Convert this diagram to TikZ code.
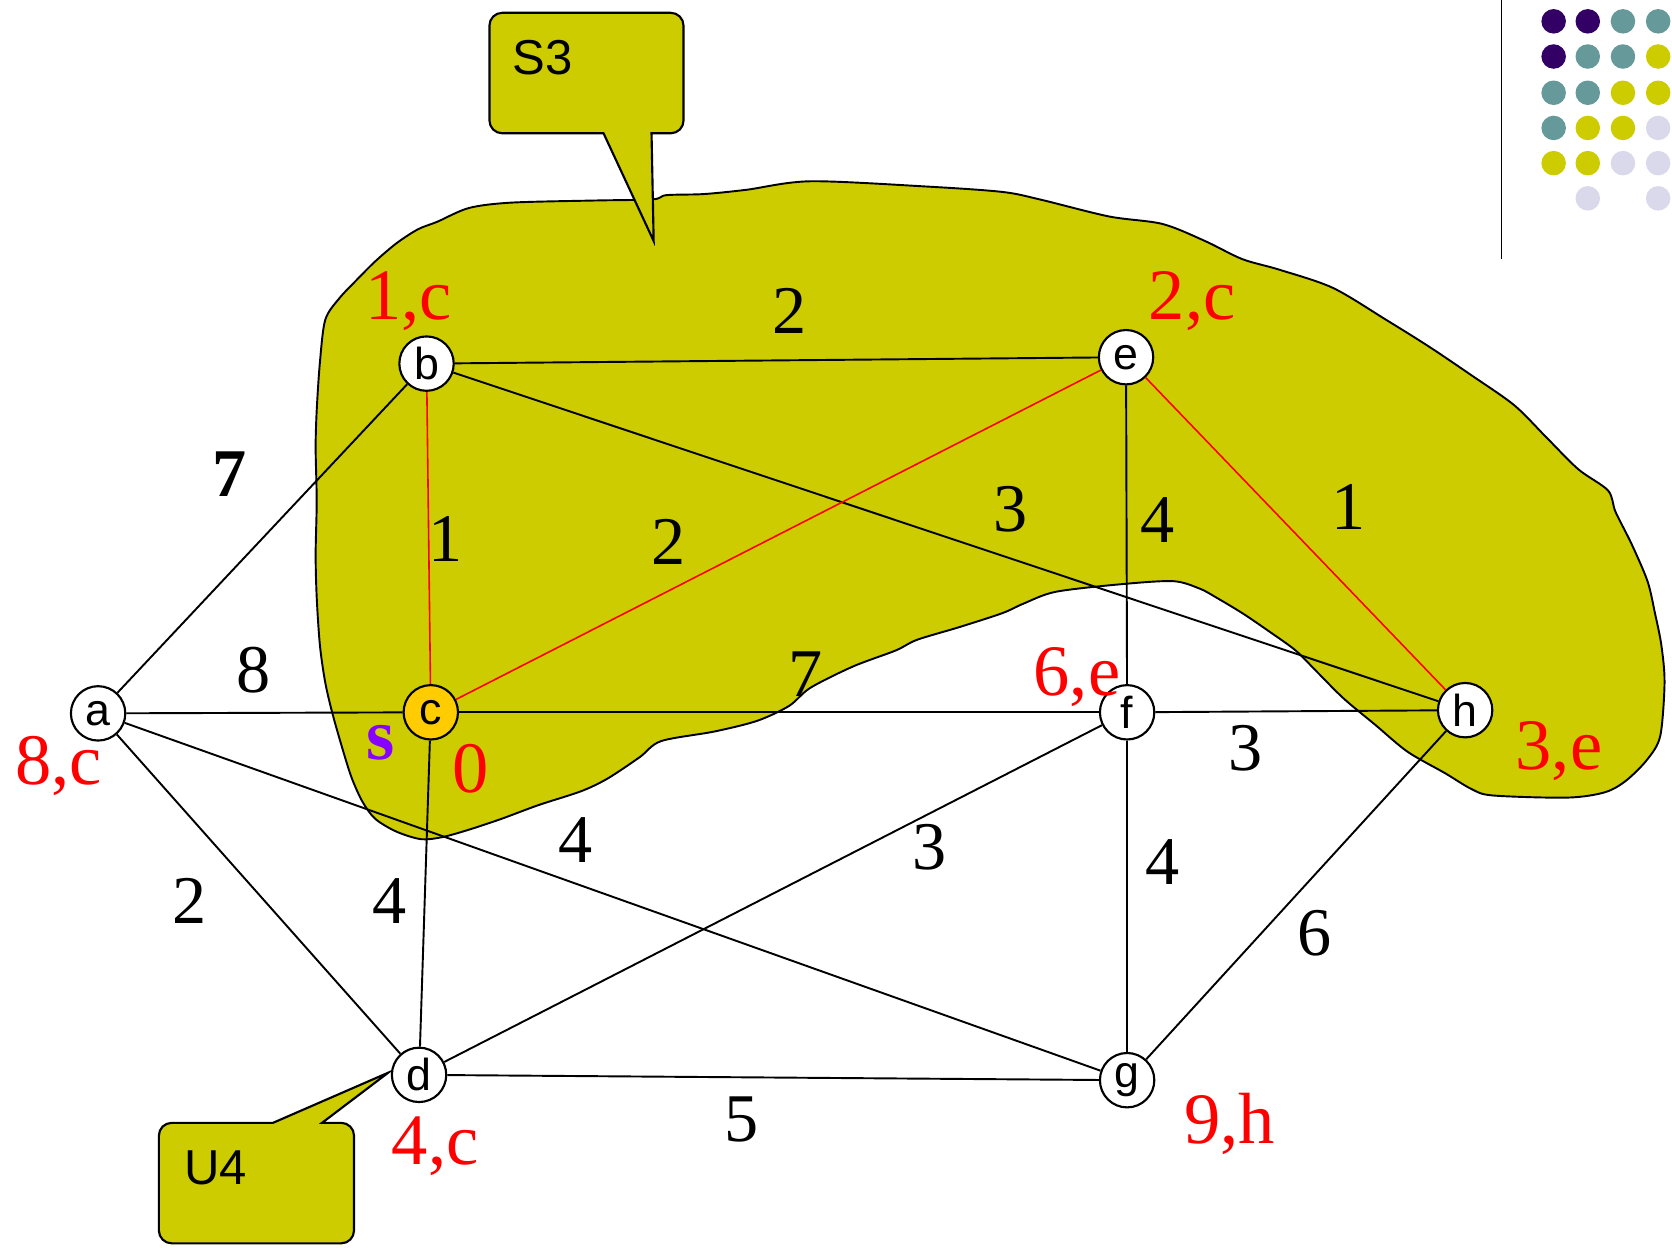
\documentclass[tikz,border=0pt]{standalone}
\usepackage{fontspec}
\setmainfont{Liberation Serif}
\newfontfamily\sansf{Liberation Sans}
\definecolor{blobcol}{HTML}{CCCC00}
\definecolor{goldc}{HTML}{FFCC00}
\definecolor{dpurple}{HTML}{330066}
\definecolor{tealc}{HTML}{669999}
\definecolor{lavc}{HTML}{D9D9EB}
\definecolor{violetc}{HTML}{8800FF}
\begin{document}
\begin{tikzpicture}[x=0.5pt,y=-0.5pt,
  vtx/.style={circle,draw,line width=1pt,fill=white,minimum size=25.5pt,inner sep=0pt,font=\sansf\fontsize{21}{21}\selectfont},
  edge/.style={line width=0.9pt},
  redge/.style={red,line width=0.75pt},
  wt/.style={font=\fontsize{32}{32}\selectfont,inner sep=0pt},
  dist/.style={font=\fontsize{34}{34}\selectfont,text=red,inner sep=0pt,anchor=base},
  callout/.style={fill=blobcol,draw,line width=1pt},
  ctext/.style={font=\sansf\fontsize{23}{23}\selectfont,inner sep=0pt},
  dotn/.style={circle,inner sep=0pt,minimum size=11.5pt}]
\useasboundingbox (0,0) rectangle (1568,1170);
% blob
\draw[fill=blobcol,line width=0.9pt] plot[smooth cycle,tension=0.5] coordinates {
(410,208) (440,195) (480,190) (560,188) (612,187) (625,183) (660,182) (700,178) (760,170) (870,175) (940,180) (975,187) (1040,203) (1090,210) (1130,226) (1165,243) (1200,253) (1250,270) (1300,300) (1340,325) (1380,352) (1420,380) (1450,410) (1480,440) (1508,460) (1515,480) (1530,510) (1545,545) (1552,575) (1558,605) (1561,640) (1557,690) (1545,712) (1525,732) (1505,743) (1470,748) (1400,746) (1380,740) (1355,725) (1320,705) (1290,680) (1260,655) (1235,630) (1215,610) (1190,592) (1165,575) (1140,560) (1125,552) (1100,545) (1050,548) (990,555) (960,566) (940,575) (900,588) (860,600) (840,610) (800,625) (760,645) (740,662) (710,676) (670,686) (620,695) (600,710) (570,730) (545,742) (505,755) (470,768) (440,778) (415,785) (395,787) (372,780) (352,768) (340,752) (330,730) (322,705) (312,670) (305,640) (300,605) (297,560) (296,520) (297,470) (296,420) (297,385) (300,340) (305,300) (318,280) (335,262) (352,245) (372,228) (392,215)};
% S3 callout
\draw[callout] (550,12) [rounded corners=6pt] -- (641,12) -- (641,125) [sharp corners] -- (611,125) -- (613,226) -- (566,125) [rounded corners=6pt] -- (459,125) -- (459,12) -- cycle;
\node[ctext] (s3) at (509,54) {S3};
% U4 callout
\draw[callout] (240,1166) [rounded corners=6pt] -- (149,1166) -- (149,1053) [sharp corners] -- (256,1053) -- (364,1006) -- (302,1053) [rounded corners=6pt] -- (332,1053) -- (332,1166) -- cycle;
\node[ctext] (u4) at (202,1095) {U4};
% vertical line and dots
\coordinate (vt) at (1408,0);
\coordinate (vb) at (1408,243);
\draw[line width=0.75pt] (vt) -- (vb);
\foreach \col/\x/\y in {dpurple/1457/20, dpurple/1489/20, tealc/1522/20, tealc/1555/20,
  dpurple/1457/53, tealc/1489/53, tealc/1522/53, blobcol/1555/53,
  tealc/1457/87, tealc/1489/87, blobcol/1522/87, blobcol/1555/87,
  tealc/1457/120, blobcol/1489/120, blobcol/1522/120, lavc/1555/120,
  blobcol/1457/153, blobcol/1489/153, lavc/1522/153, lavc/1555/153,
  lavc/1489/186, lavc/1555/186}
  \node[dotn,fill=\col] (dot-\x-\y) at (\x,\y) {};
% vertices
\node[vtx] (a) at (92,669) {a};
\node[vtx] (b) at (400,341) {b};
\node[vtx,fill=goldc] (c) at (404,668) {c};
\node[vtx] (d) at (393,1008) {d};
\node[vtx] (e) at (1056,335) {e};
\node[vtx] (f) at (1057,668) {f};
\node[vtx] (g) at (1057,1013) {g};
\node[vtx] (h) at (1374,666) {h};
% edges
\draw[edge] (a) -- (b);
\draw[edge] (a) -- (c);
\draw[edge] (a) -- (d);
\draw[edge] (a) -- (g);
\draw[redge] (b) -- (c);
\draw[edge] (b) -- (e);
\draw[edge] (b) -- (h);
\draw[redge] (c) -- (e);
\draw[edge] (c) -- (f);
\draw[edge] (c) -- (d);
\draw[edge] (e) -- (f);
\draw[redge] (e) -- (h);
\draw[edge] (f) -- (h);
\draw[edge] (f) -- (d);
\draw[edge] (f) -- (g);
\draw[edge] (h) -- (g);
\draw[edge] (d) -- (g);
% weights
\node[wt,font=\bfseries\fontsize{32}{32}\selectfont] (w-ab) at (215,445) {7};
\node[wt] (w-ac) at (238,628) {8};
\node[wt] (w-ad) at (178,845) {2};
\node[wt] (w-ag) at (540,788) {4};
\node[wt] (w-bc) at (418,505) {1};
\node[wt] (w-be) at (740,292) {2};
\node[wt] (w-bh) at (948,478) {3};
\node[wt] (w-ce) at (627,508) {2};
\node[wt] (w-cf) at (755,632) {7};
\node[wt] (w-cd) at (365,845) {4};
\node[wt] (w-ef) at (1086,488) {4};
\node[wt] (w-eh) at (1265,475) {1};
\node[wt] (w-fh) at (1168,702) {3};
\node[wt] (w-fd) at (872,795) {3};
\node[wt] (w-fg) at (1090,808) {4};
\node[wt] (w-hg) at (1233,875) {6};
\node[wt] (w-dg) at (695,1050) {5};
% distance labels
\node[dist] (l-b) at (383,300) {1,c};
\node[dist] (l-e) at (1118,300) {2,c};
\node[dist] (l-a) at (55,736) {8,c};
\node[dist] (l-c) at (441,743) {0};
\node[dist] (l-f) at (1010,652) {6,e};
\node[dist] (l-h) at (1462,722) {3,e};
\node[dist] (l-d) at (408,1092) {4,c};
\node[dist] (l-g) at (1153,1072) {9,h};
\node[dist,text=violetc,font=\bfseries\fontsize{34}{34}\selectfont] (src) at (357,712) {s};
\end{tikzpicture}
\end{document}
